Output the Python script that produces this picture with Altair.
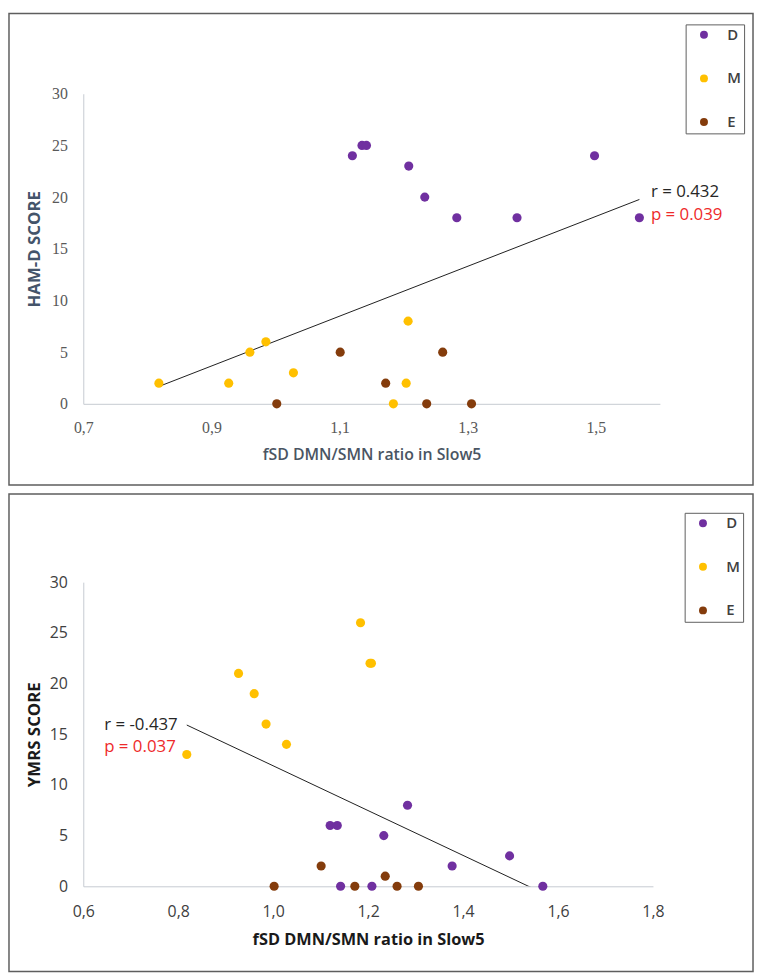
import altair as alt
import pandas as pd

# ---------------- data ----------------
groups = ["D"] * 9 + ["M"] * 8 + ["E"] * 6
fsd_ratio = [1.120, 1.135, 1.142, 1.208, 1.233, 1.283, 1.377, 1.498, 1.568,
             0.818, 0.927, 0.960, 0.985, 1.028, 1.184, 1.207, 1.204,
             1.002, 1.101, 1.172, 1.236, 1.261, 1.306]
ham_d = [24, 25, 25, 23, 20, 18, 18, 24, 18,
         2, 2, 5, 6, 3, 0, 8, 2,
         0, 5, 2, 0, 5, 0]
ymrs = [6, 6, 0, 0, 5, 8, 2, 3, 0,
        13, 21, 19, 16, 14, 26, 22, 22,
        0, 2, 0, 1, 0, 0]

group_order = ["D", "M", "E"]
group_colors = ["#7030A0", "#FFC000", "#843C0C"]

top_x_domain = [0.7, 1.6]
top_x_ticks = [0.7, 0.9, 1.1, 1.3, 1.5]
bottom_x_domain = [0.6, 1.8]
bottom_x_ticks = [0.6, 0.8, 1.0, 1.2, 1.4, 1.6, 1.8]
y_domain = [0, 30]
y_ticks = [0, 5, 10, 15, 20, 25, 30]

top_stats = ["r = 0.432", "p = 0.039"]
top_stats_x = [1.586, 1.586]
top_stats_y = [20.5, 18.3]
bottom_stats = ["r = -0.437", "p = 0.037"]
bottom_stats_x = [0.644, 0.644]
bottom_stats_y = [15.9, 13.7]

df = pd.DataFrame({"ratio": fsd_ratio, "group": groups, "ham_d": ham_d, "ymrs": ymrs})

LABEL_EXPR = "replace(format(datum.value, '.1f'), '.', ',')"


def panel(score, y_title, x_domain, x_ticks, stats, stats_x, stats_y, W, H,
          frame_top, frame_bottom, style):
    xs = alt.Scale(domain=x_domain, nice=False, zero=False)
    ys = alt.Scale(domain=y_domain, nice=False, zero=False)
    xaxis = alt.Axis(values=x_ticks, labelExpr=LABEL_EXPR, ticks=False, grid=False,
                     labelFlush=False, domainColor="#C5CAD1", domainWidth=1,
                     labelFont=style["tick_font"], labelFontSize=style["tick_size"],
                     labelColor=style["tick_color"], labelPadding=style["xlab_pad"],
                     title="fSD DMN/SMN ratio in Slow5", titleFont="Open Sans",
                     titleFontSize=style["xtitle_size"], titleFontWeight=style["xtitle_weight"],
                     titleColor=style["xtitle_color"], titlePadding=style["xtitle_pad"])
    yaxis = alt.Axis(values=y_ticks, ticks=False, grid=False, labelFlush=False,
                     domainColor="#C5CAD1", domainWidth=1,
                     labelFont=style["tick_font"], labelFontSize=style["tick_size"],
                     labelColor=style["tick_color"], labelPadding=16,
                     title=y_title, titleFont="Open Sans",
                     titleFontSize=style["ytitle_size"], titleFontWeight="bold",
                     titleColor=style["ytitle_color"], titlePadding=style["ytitle_pad"])
    X = alt.X("ratio:Q", scale=xs, axis=xaxis)
    Y = alt.Y(score + ":Q", scale=ys, axis=yaxis)

    frame = alt.Chart(pd.DataFrame({"f": [0]})).mark_rect(
        fillOpacity=0, stroke="#5E5E5E", strokeWidth=1.5
    ).encode(x=alt.value(-75), x2=alt.value(676), y=alt.value(frame_top),
             y2=alt.value(frame_bottom))

    trend = alt.Chart(df).transform_regression("ratio", score).mark_line(
        clip=True, color="#1E1E1E", strokeWidth=1
    ).encode(x=X, y=Y)

    pts = alt.Chart(df).mark_circle(size=85, opacity=1).encode(
        x=X, y=Y,
        color=alt.Color("group:N",
                        scale=alt.Scale(domain=group_order, range=group_colors),
                        legend=alt.Legend(title=None, orient="none",
                                          legendX=style["leg_x"], legendY=style["leg_y"],
                                          direction="vertical", padding=3,
                                          rowPadding=28, symbolSize=64,
                                          symbolType="circle", symbolOffset=8,
                                          labelOffset=16, labelFont="Open Sans",
                                          labelFontSize=15, labelFontWeight=600,
                                          labelExpr="datum.label + '\u00a0\u00a0'",
                                          labelColor="#404040", strokeColor="#5E5E5E",
                                          fillColor="white")),
        order=alt.Order("ratio:Q"),
    )

    stat_df = pd.DataFrame({"ratio": stats_x, score: stats_y, "label": stats})
    r_text = alt.Chart(stat_df.iloc[[0]]).mark_text(
        align="left", baseline="middle", font="Open Sans", fontSize=17, color="#262626"
    ).encode(x=X, y=Y, text="label:N")
    p_text = alt.Chart(stat_df.iloc[[1]]).mark_text(
        align="left", baseline="middle", font="Open Sans", fontSize=17, color="#EE2A2A"
    ).encode(x=X, y=Y, text="label:N")

    return alt.layer(frame, trend, pts, r_text, p_text).properties(width=W, height=H)


top_style = dict(tick_font="Liberation Serif", tick_size=16, tick_color="#595959",
                 xlab_pad=16, xtitle_size=16, xtitle_weight=600, xtitle_color="#4A5563",
                 xtitle_pad=11, ytitle_size=17, ytitle_color="#44546A", ytitle_pad=8,
                 leg_x=608, leg_y=-70)
bottom_style = dict(tick_font="Open Sans", tick_size=16, tick_color="#404040",
                    xlab_pad=17, xtitle_size=16.5, xtitle_weight="bold", xtitle_color="#1A1A1A",
                    xtitle_pad=13, ytitle_size=17, ytitle_color="#1A1A1A", ytitle_pad=6,
                    leg_x=607, leg_y=-70)

top = panel("ham_d", "HAM-D SCORE", top_x_domain, top_x_ticks, top_stats,
            top_stats_x, top_stats_y, 582, 313, -81, 395, top_style)
bottom = panel("ymrs", "YMRS SCORE", bottom_x_domain, bottom_x_ticks, bottom_stats,
               bottom_stats_x, bottom_stats_y, 575, 307, -89, 393, bottom_style)

chart = alt.vconcat(top, bottom, spacing=7).resolve_legend(color="independent").resolve_scale(
    x="independent", y="independent"
).properties(padding=0).configure_view(stroke=None)

chart.save("out.html", embed_options={"renderer": "svg", "actions": False})
